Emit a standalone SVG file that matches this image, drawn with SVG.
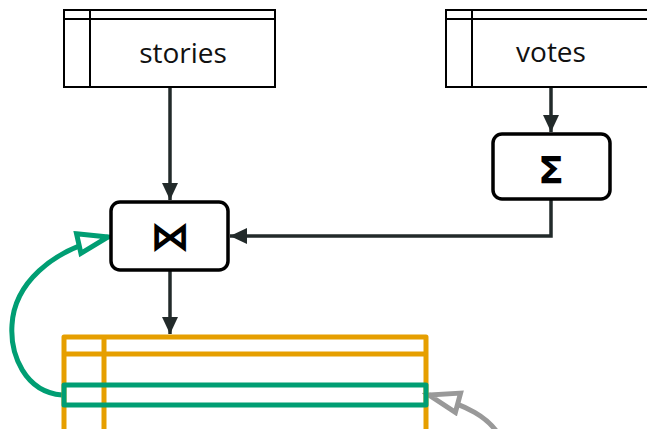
<svg xmlns="http://www.w3.org/2000/svg" width="647" height="429" viewBox="0 0 647 429">
<style>
.tbl{fill:#fff;stroke:#000;stroke-width:2}
.tl{stroke:#000;stroke-width:2;fill:none}
.lbl{font-family:"Open Sans","Noto Sans",sans-serif;font-size:28px;fill:#111;text-anchor:middle}
.op{fill:#fff;stroke:#000;stroke-width:3.5}
.sym{font-family:"DejaVu Sans",sans-serif;font-weight:bold;fill:#000;text-anchor:middle}
.edge{fill:none;stroke:#222a2a;stroke-width:3.5}
.ora{fill:none;stroke:#E69F00;stroke-width:5;stroke-linejoin:round}
</style>
<defs>
<marker id="ah" markerUnits="userSpaceOnUse" markerWidth="20" markerHeight="18" refX="17" refY="8" orient="auto" viewBox="0 0 20 18">
<path d="M0,0 L17,8 L0,16 z" fill="#222a2a"/>
</marker>
<marker id="og" markerUnits="userSpaceOnUse" markerWidth="40" markerHeight="30" refX="33" refY="13" orient="auto" viewBox="0 0 40 30">
<path d="M3,3 L33,13 L3,23 z" fill="#fff" stroke="#009E73" stroke-width="5"/>
</marker>
<marker id="oy" markerUnits="userSpaceOnUse" markerWidth="40" markerHeight="30" refX="33" refY="13" orient="auto" viewBox="0 0 40 30">
<path d="M3,3 L33,13 L3,23 z" fill="#fff" stroke="#999" stroke-width="5"/>
</marker>
</defs>
<g id="connectors">
<path class="edge" d="M170,87 V200" marker-end="url(#ah)"/>
<path class="edge" d="M551,87 V132" marker-end="url(#ah)"/>
<path class="edge" d="M551,199 V236 H230" marker-end="url(#ah)"/>
<path class="edge" d="M170,271 V334" marker-end="url(#ah)"/>
<path d="M62,395 C25,392 10,355 12,325 C14,285 50,250 108,237" fill="none" stroke="#009E73" stroke-width="5" marker-end="url(#og)"/>
<path d="M497,432 C487,418 470,406 429,395" fill="none" stroke="#999" stroke-width="5" marker-end="url(#oy)"/>
</g>
<g id="stories">
<rect class="tbl" x="64" y="10" width="211" height="77"/>
<path class="tl" d="M64,19 H275 M90,10 V87"/>
<text class="lbl" x="183" y="63">stories</text>
</g>
<g id="votes">
<rect class="tbl" x="446" y="10" width="210" height="77"/>
<path class="tl" d="M446,19 H656 M472,10 V87"/>
<text class="lbl" x="551" y="62">votes</text>
</g>
<g id="sum">
<rect class="op" x="493" y="134" width="117" height="65" rx="9"/>
<text class="sym" x="551" y="183" font-size="38">Σ</text>
</g>
<g id="join">
<rect class="op" x="111" y="202" width="117" height="68" rx="9"/>
<text class="sym" x="170" y="250" font-size="40">⋈</text>
</g>
<g id="result">
<rect class="ora" x="64" y="337" width="362" height="100"/>
<path class="ora" d="M64,354 H426 M104,337 V437"/>
<rect x="64" y="385" width="362" height="20" fill="none" stroke="#009E73" stroke-width="5" stroke-linejoin="round"/>
</g>
</svg>
